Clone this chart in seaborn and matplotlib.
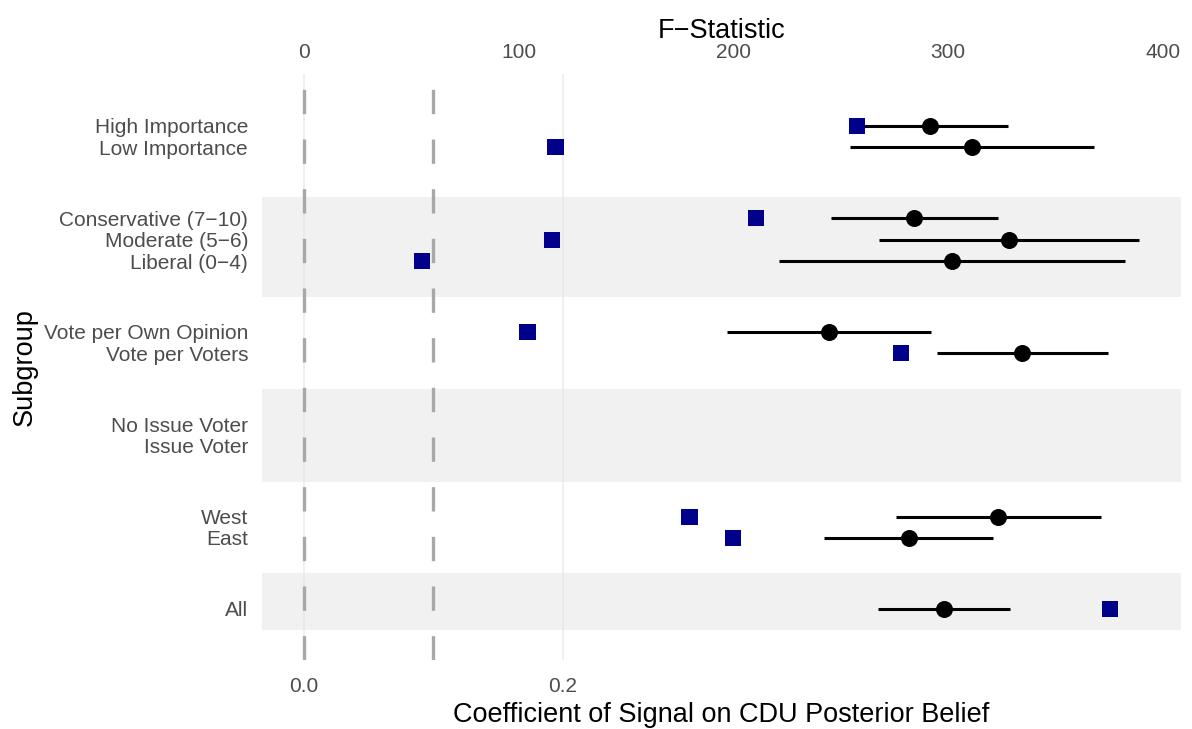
import numpy as np
import pandas as pd
import matplotlib
matplotlib.use("Agg")
import matplotlib.pyplot as plt
import seaborn as sns

# Subgroup estimates: coefficient of signal on CDU posterior belief (95% CI)
subgroups = ["High Importance", "Low Importance",
             "Conservative (7\u221210)", "Moderate (5\u22126)", "Liberal (0\u22124)",
             "Vote per Own Opinion", "Vote per Voters",
             "No Issue Voter", "Issue Voter",
             "West", "East", "All"]
row_pos = [22.67, 21.67, 18.33, 17.33, 16.33, 13.0, 12.0, 8.67, 7.67, 4.33, 3.33, 0.0]
estimate = [0.4840, 0.5161, 0.4716, 0.5447, 0.5005, 0.4058, 0.5549,
            np.nan, np.nan, 0.5364, 0.4673, 0.4943]
ci_low = [0.4243, 0.4215, 0.4071, 0.4446, 0.3667, 0.3271, 0.4891,
          np.nan, np.nan, 0.4573, 0.4019, 0.4436]
ci_high = [0.5437, 0.6105, 0.5360, 0.6452, 0.6342, 0.4845, 0.6211,
           np.nan, np.nan, 0.6154, 0.5326, 0.5452]
# First-stage F-statistics (top axis)
f_stat = [257.7, 117.2, 210.7, 115.4, 54.9, 104.2, 278.2,
          np.nan, np.nan, 179.6, 200.0, 375.4]

# Shaded group bands (in row units)
band_lo = [-1.0, 5.97, 14.64]
band_hi = [1.67, 10.33, 19.33]

ref_lines = [0.0, 0.1]
coef_ticks = [0.0, 0.2]
f_ticks = [0, 100, 200, 300, 400]
f_scale = 603.0

df = pd.DataFrame({"subgroup": subgroups, "y": row_pos, "est": estimate,
                   "lo": ci_low, "hi": ci_high, "F": f_stat})

sns.set_theme(style="white")
plt.rcParams["font.family"] = ["Liberation Sans", "DejaVu Sans"]

fig = plt.figure(figsize=(11.92, 7.29), dpi=100)
ax = fig.add_axes([262 / 1192, 1 - 660 / 729, (1181 - 262) / 1192, (660 - 74) / 729])

# x range: data plus 5% padding
x_lo = min(0.0, np.nanmin(ci_low))
x_hi = np.nanmax(ci_high)
pad = 0.05 * (x_hi - x_lo)
ax.set_xlim(x_lo - pad, x_hi + pad)
ax.set_ylim(-2.4, 25.11)

for lo, hi in zip(band_lo, band_hi):
    ax.axhspan(lo, hi, color="#F1F1F1", lw=0, zorder=0.2)

ax.set_xticks(coef_ticks)
ax.set_xticklabels([f"{t:.1f}" for t in coef_ticks])
ax.grid(False)
for xv in coef_ticks:
    ax.axvline(xv, color="#E3E3E3", alpha=0.55, lw=1.4, zorder=0.6)

for xv in ref_lines:
    ax.axvline(xv, color="#A8A8A8", lw=2.4, ls=(0, (7.3, 7.6)), zorder=1)

ax.hlines(df["y"], df["lo"], df["hi"], color="black", lw=2.2, zorder=2,
          capstyle="butt")
sns.scatterplot(data=df, x="est", y="y", ax=ax, color="black", s=150,
                marker="o", edgecolor="black", linewidth=0, zorder=3, legend=False)

ax.set_yticks(row_pos)
ax.set_yticklabels(subgroups)
ax.tick_params(axis="both", length=0, labelsize=15, colors="#4D4D4D")
ax.tick_params(axis="x", pad=12)
ax.tick_params(axis="y", pad=10)
ax.set_xlabel("Coefficient of Signal on CDU Posterior Belief", fontsize=19.5,
              color="black", labelpad=4.5)
ax.set_ylabel("Subgroup", fontsize=19.5, color="black", labelpad=4)
for s in ax.spines.values():
    s.set_visible(False)

# Top axis: F-statistic, on a scale tied to the coefficient axis
ax2 = ax.twiny()
ax2.set_xlim(np.array(ax.get_xlim()) * f_scale)
sns.scatterplot(data=df, x="F", y="y", ax=ax2, color="#00008B", s=135,
                marker="s", edgecolor="none", linewidth=0, zorder=4, legend=False)
ax2.set_xticks(f_ticks)
ax2.set_xticklabels([str(t) for t in f_ticks])
ax2.tick_params(axis="x", length=0, labelsize=15, colors="#4D4D4D", pad=9)
ax2.set_xlabel("F\u2212Statistic", fontsize=19.5, color="black", labelpad=3)
ax2.grid(False)
for s in ax2.spines.values():
    s.set_visible(False)

fig.savefig("out.png", dpi=100, facecolor="white")
